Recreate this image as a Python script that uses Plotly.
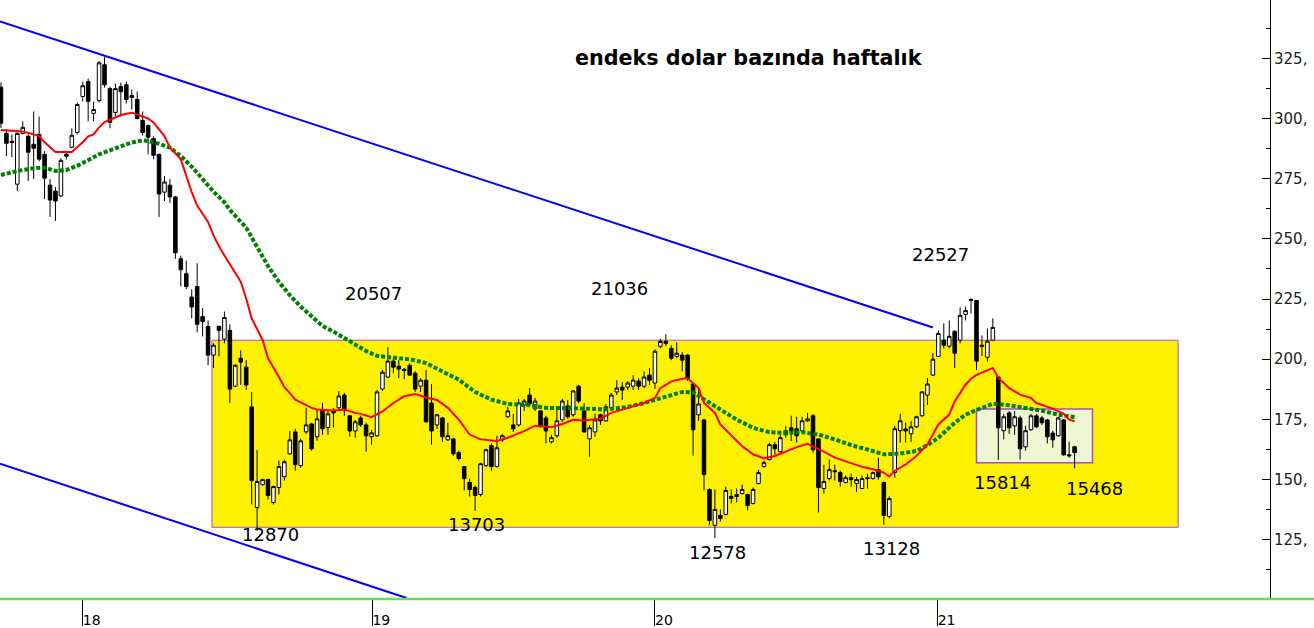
import pandas as pd
import plotly.graph_objects as go

# ---------------- data ----------------
first_week = "2017-09-15"

open_ = [
    313.0, 293.8, 290.5, 272.7, 293.8, 292.6, 289.3, 293.4, 285.1, 272.3,
    269.8, 267.8, 285.1, 288.0, 294.2, 309.1, 315.3, 302.1, 307.4, 322.3,
    312.4, 302.5, 313.2, 314.0, 309.5, 307.9, 299.2, 297.1, 291.7, 285.1,
    269.4, 272.3, 267.4, 241.7, 235.5, 225.8, 230.2, 217.7, 213.6, 201.7,
    213.6, 208.3, 212.0, 188.8, 200.4, 196.7, 180.2, 138.4, 147.9, 150.0,
    140.5, 146.7, 151.2, 160.7, 169.8, 155.8, 169.8, 173.1, 167.8, 179.0,
    171.6, 178.5, 179.8, 185.1, 176.5, 170.2, 175.6, 172.7, 167.8, 168.2,
    187.6, 192.6, 199.2, 197.1, 195.8, 197.5, 194.2, 188.8, 191.3, 181.8,
    172.7, 175.6, 166.5, 166.9, 161.2, 155.4, 148.8, 146.7, 143.8, 155.8,
    164.1, 155.4, 166.5, 176.1, 172.7, 172.7, 181.0, 185.1, 179.4, 178.5,
    175.6, 165.7, 168.2, 174.8, 180.6, 176.9, 188.8, 178.5, 166.9, 169.8,
    176.9, 174.4, 179.8, 186.4, 188.4, 188.4, 188.8, 190.9, 188.8, 193.4,
    190.1, 205.4, 207.4, 204.5, 201.2, 201.7, 201.7, 189.7, 176.9, 174.8,
    145.9, 131.0, 135.1, 135.5, 143.0, 143.8, 144.2, 143.8, 140.1, 148.4,
    155.4, 158.3, 164.5, 161.6, 168.6, 171.5, 171.1, 170.3, 174.4, 176.5,
    166.9, 146.3, 150.4, 153.7, 152.9, 148.8, 150.8, 148.4, 146.3, 150.8,
    150.4, 154.1, 148.8, 134.7, 152.9, 170.3, 171.0, 169.0, 171.9, 176.5,
    185.1, 193.4, 201.2, 207.9, 205.4, 211.6, 207.9, 218.6, 224.4, 224.4,
    205.8, 200.8, 207.9, 192.6, 170.3, 177.7, 172.3, 175.6, 163.6, 170.7,
    176.5, 175.6, 174.8, 169.3, 168.2, 174.8, 160.3, 163.6,
]

high = [
    315.0, 295.5, 293.4, 294.2, 298.8, 293.4, 302.9, 300.8, 286.4, 274.8,
    271.5, 283.5, 286.4, 295.9, 306.6, 315.3, 316.5, 307.0, 323.9, 325.6,
    313.2, 314.5, 314.9, 315.3, 312.0, 311.2, 302.9, 297.5, 292.6, 285.5,
    276.0, 274.8, 267.8, 243.0, 240.9, 229.0, 239.9, 221.3, 216.1, 206.6,
    214.0, 219.8, 214.5, 197.9, 203.7, 199.6, 186.4, 162.4, 150.4, 150.4,
    147.5, 157.9, 158.3, 170.2, 171.1, 167.0, 179.8, 173.6, 179.0, 181.8,
    178.5, 179.8, 186.8, 186.0, 176.9, 174.8, 176.5, 173.6, 170.7, 187.2,
    195.5, 205.1, 200.8, 199.6, 196.3, 198.3, 195.0, 192.1, 195.5, 189.7,
    177.3, 176.0, 173.6, 167.4, 162.0, 155.4, 150.4, 147.5, 157.0, 162.8,
    165.0, 168.2, 169.0, 180.2, 177.3, 183.5, 183.5, 188.0, 183.9, 179.0,
    176.5, 168.6, 179.4, 183.5, 183.1, 187.2, 189.3, 181.8, 172.7, 177.3,
    177.3, 181.4, 186.0, 191.3, 190.5, 190.9, 193.4, 192.1, 195.0, 196.3,
    204.1, 208.5, 210.4, 205.8, 207.0, 202.9, 202.1, 190.5, 187.2, 175.2,
    146.3, 145.9, 137.6, 147.1, 145.9, 146.3, 147.9, 144.2, 146.7, 154.1,
    157.9, 165.3, 165.7, 168.6, 172.3, 176.5, 176.1, 176.1, 177.7, 177.3,
    166.9, 156.2, 158.3, 156.2, 153.7, 151.7, 152.5, 151.2, 151.7, 152.5,
    153.3, 159.1, 149.2, 143.0, 172.3, 177.3, 173.6, 174.4, 176.5, 186.8,
    192.2, 202.5, 212.0, 214.9, 216.1, 212.0, 221.5, 221.9, 225.3, 224.6,
    209.9, 212.8, 217.0, 193.0, 177.3, 178.5, 178.5, 176.5, 172.3, 177.3,
    177.3, 176.5, 175.2, 170.2, 176.1, 175.2, 165.7, 164.0,
]

low = [
    296.0, 284.3, 283.9, 269.8, 293.4, 274.0, 274.8, 282.2, 266.5, 259.1,
    257.4, 267.4, 283.0, 287.6, 293.4, 307.1, 298.8, 298.8, 306.6, 312.8,
    295.9, 300.8, 300.8, 306.2, 303.7, 299.6, 292.9, 285.1, 283.1, 259.1,
    265.7, 264.9, 241.7, 230.2, 229.0, 216.9, 211.2, 209.5, 197.5, 196.3,
    201.2, 206.6, 181.8, 188.4, 189.3, 187.2, 139.7, 128.7, 147.5, 141.7,
    139.7, 143.8, 149.6, 160.3, 153.7, 154.9, 169.0, 162.0, 166.1, 168.6,
    168.6, 171.6, 179.4, 176.5, 167.8, 167.4, 171.9, 161.6, 164.5, 167.8,
    186.8, 192.1, 194.2, 192.1, 191.7, 193.0, 186.4, 186.4, 173.6, 164.5,
    171.0, 165.7, 166.1, 159.9, 157.9, 145.5, 143.0, 137.0, 143.0, 155.4,
    153.7, 155.0, 165.7, 175.6, 169.8, 171.9, 178.5, 180.6, 178.5, 171.5,
    165.0, 165.0, 167.4, 174.0, 175.2, 176.1, 181.8, 169.4, 159.5, 167.8,
    172.7, 174.0, 179.4, 185.1, 183.1, 187.2, 187.2, 187.2, 188.0, 189.3,
    187.6, 204.5, 205.4, 199.6, 200.4, 195.0, 190.9, 159.9, 174.4, 145.5,
    131.0, 125.8, 132.6, 135.1, 140.1, 140.5, 143.8, 137.2, 139.7, 148.0,
    155.0, 158.0, 160.3, 161.2, 167.4, 166.0, 165.3, 170.0, 174.0, 161.2,
    136.4, 144.2, 149.6, 149.6, 147.1, 148.4, 147.1, 144.9, 146.0, 146.3,
    150.0, 150.0, 131.3, 133.9, 150.8, 165.3, 165.3, 165.7, 171.5, 176.1,
    181.0, 193.0, 200.8, 204.5, 204.5, 196.3, 206.6, 216.1, 219.0, 195.5,
    201.3, 199.0, 208.0, 158.1, 166.7, 169.0, 168.6, 158.3, 162.0, 170.3,
    171.5, 172.7, 165.0, 163.2, 167.8, 159.9, 159.1, 154.7,
]

close = [
    298.0, 289.7, 290.0, 293.8, 296.3, 286.0, 287.6, 283.1, 275.2, 266.1,
    265.7, 282.6, 284.3, 293.0, 305.8, 313.6, 307.1, 303.7, 323.1, 314.0,
    298.3, 312.4, 311.1, 307.9, 308.7, 300.0, 294.2, 292.2, 284.7, 268.6,
    273.6, 267.4, 244.2, 237.2, 230.2, 221.7, 214.5, 215.7, 201.7, 205.8,
    212.0, 217.3, 187.6, 197.5, 198.8, 189.3, 149.6, 149.2, 150.0, 143.4,
    147.1, 155.4, 157.4, 166.5, 156.2, 166.1, 172.7, 162.8, 175.2, 171.1,
    177.3, 177.7, 184.7, 179.0, 170.2, 174.0, 172.7, 168.2, 169.4, 186.4,
    194.6, 199.2, 196.7, 195.9, 195.3, 193.4, 187.6, 191.3, 174.0, 170.2,
    176.9, 167.8, 168.2, 160.7, 158.7, 150.4, 145.9, 143.4, 156.6, 162.4,
    155.4, 163.2, 168.2, 178.5, 171.1, 181.8, 182.6, 181.4, 182.6, 172.3,
    170.2, 167.4, 174.4, 182.6, 176.1, 186.8, 182.6, 169.8, 171.5, 174.8,
    174.4, 180.2, 185.1, 188.0, 187.2, 190.1, 191.3, 188.8, 192.6, 191.3,
    203.3, 207.4, 206.6, 200.4, 202.5, 199.6, 192.1, 170.7, 181.4, 152.1,
    133.0, 137.6, 133.9, 145.5, 142.2, 143.0, 145.9, 139.3, 145.9, 152.9,
    157.0, 164.5, 162.8, 167.4, 170.2, 170.2, 168.2, 174.4, 175.2, 162.4,
    146.7, 149.2, 154.1, 153.3, 149.2, 150.8, 150.0, 150.0, 150.4, 150.4,
    152.9, 151.2, 135.1, 142.1, 171.1, 174.4, 170.2, 171.9, 176.1, 186.4,
    189.7, 200.0, 210.7, 205.8, 209.5, 202.5, 218.2, 220.2, 224.8, 199.2,
    205.4, 207.5, 213.2, 171.5, 176.1, 171.5, 176.1, 162.8, 170.3, 176.5,
    171.9, 173.6, 167.8, 166.5, 175.6, 160.3, 159.9, 161.2,
]

# short moving average (red) at these week numbers
red_weeks = [
    0, 4, 6, 7, 8, 10, 12, 13, 15, 16, 17, 18, 19, 21, 22, 24, 25, 27, 28, 29,
    30, 31, 33, 34, 35, 36, 38, 39, 40, 41, 43, 44, 45, 46, 48, 49, 51, 52, 53, 54,
    57, 58, 61, 63, 65, 66, 68, 70, 72, 74, 76, 78, 80, 82, 84, 86, 88, 91, 93, 96,
    98, 101, 103, 105, 107, 110, 112, 115, 118, 120, 121, 123, 125, 126, 127, 128,
    129, 131, 132, 133, 134, 136, 138, 140, 142, 144, 146, 148, 149, 151, 153, 156,
    158, 160, 162, 163, 164, 166, 168, 170, 171, 172, 174, 175, 177, 178, 179, 182,
    183, 185, 187, 189, 190, 193, 195, 196, 197,
]
red_ma = [
    295.2, 294.6, 293.4, 292.7, 290.1, 286.1, 286.1, 286.1, 290.1, 292.6,
    293.4, 296.3, 298.5, 300.4, 301.4, 302.4, 301.7, 300.0, 298.3, 295.5,
    292.7, 288.0, 283.0, 276.2, 269.4, 263.8, 257.0, 251.4, 246.9, 243.1,
    235.5, 232.2, 225.2, 217.0, 208.0, 200.4, 192.6, 188.4, 185.9, 183.2,
    179.8, 179.1, 178.7, 179.1, 177.7, 177.3, 175.9, 178.3, 181.8, 184.6,
    185.5, 184.1, 183.1, 179.8, 174.9, 168.7, 166.7, 166.0, 167.4, 170.1,
    172.4, 171.7, 173.1, 174.8, 174.5, 175.3, 177.7, 179.8, 181.8, 183.9,
    188.0, 190.8, 191.9, 192.1, 190.1, 188.0, 181.8, 177.7, 172.9, 170.7,
    168.7, 163.9, 160.5, 158.8, 159.8, 161.6, 163.5, 164.9, 163.9, 161.6,
    159.1, 157.0, 155.3, 154.3, 152.9, 151.3, 153.6, 156.3, 159.8, 164.6,
    168.7, 172.9, 177.0, 182.5, 189.4, 191.9, 193.5, 196.3, 192.2, 188.0,
    185.3, 183.9, 181.8, 179.5, 177.3, 174.9, 174.2,
]

# long moving average (green dotted)
green_weeks = [
    0, 3, 6, 8, 10, 12, 14, 16, 18, 21, 24, 26, 27, 29, 31, 33, 35, 37, 39, 41,
    42, 45, 47, 49, 51, 53, 55, 57, 59, 61, 63, 65, 67, 69, 71, 73, 75, 78, 81, 84,
    87, 90, 93, 97, 100, 104, 107, 111, 115, 118, 121, 125, 127, 130, 132, 135, 138,
    141, 144, 147, 150, 153, 156, 159, 162, 165, 168, 170, 172, 175, 177, 180, 182,
    185, 188, 191, 194, 197,
]
green_ma = [
    276.5, 278.2, 279.3, 279.6, 278.2, 278.6, 280.3, 282.6, 285.1, 287.6,
    290.0, 290.9, 290.6, 289.5, 287.9, 284.4, 280.0, 274.8, 269.6, 265.2,
    262.0, 254.6, 246.3, 238.7, 232.1, 226.6, 221.8, 217.7, 213.8, 211.5,
    208.7, 205.9, 203.4, 201.4, 200.7, 200.4, 200.0, 198.4, 194.9, 191.5,
    186.4, 183.2, 181.4, 180.9, 179.8, 179.8, 179.5, 179.1, 180.2, 181.8,
    183.6, 186.4, 186.2, 182.2, 179.1, 174.9, 171.5, 169.7, 169.4, 169.7,
    168.7, 166.7, 164.3, 162.5, 160.5, 160.8, 161.9, 164.3, 167.4, 173.6,
    177.0, 179.8, 181.5, 180.9, 179.8, 178.6, 177.0, 175.9,
]

upper_trend_dates = ["2017-09-13 18:00", "2020-12-25"]
upper_trend_vals = [340.3, 213.2]
lower_trend_dates = ["2017-09-13 18:00", "2019-02-18"]
lower_trend_vals = [156.6, 100.8]

range_box_dates = ["2018-06-13", "2021-11-05"]
range_box_levels = [130.2, 207.9]
base_box_dates = ["2021-02-19", "2021-07-18"]
base_box_levels = [157.0, 179.3]

label_texts = ["20507", "21036", "22527", "12870", "13703", "12578", "13128", "15814", "15468"]
label_dates = ["2019-01-07", "2019-11-18", "2021-01-04", "2018-08-27", "2019-05-19",
               "2020-03-23", "2020-11-02", "2021-03-24", "2021-07-20"]
label_levels = [227.3, 229.3, 243.4, 127.3, 131.4, 119.9, 121.5, 148.8, 146.3]

year_tick_dates = ["2017-12-29", "2019-01-05", "2020-01-03", "2020-12-31"]
year_tick_labels = ["18", "19", "20", "21"]
price_ticks = [125, 150, 175, 200, 225, 250, 275, 300, 325]
price_tick_labels = ["125,", "150,", "175,", "200,", "225,", "250,", "275,", "300,", "325,"]

title_text = "endeks dolar bazında haftalık"

assert len(open_) == len(high) == len(low) == len(close)
assert len(red_weeks) == len(red_ma) and len(green_weeks) == len(green_ma)

# ---------------- figure ----------------
dates = pd.date_range(first_week, periods=len(close), freq="7D")

fig = go.Figure()

fig.add_trace(go.Candlestick(
    x=dates, open=open_, high=high, low=low, close=close,
    increasing=dict(fillcolor="white", line=dict(color="black", width=1)),
    decreasing=dict(fillcolor="black", line=dict(color="black", width=1)),
    whiskerwidth=0, showlegend=False, hoverinfo="skip",
))

fig.add_trace(go.Scatter(
    x=[dates[i] for i in green_weeks], y=green_ma, mode="lines",
    line=dict(color="#008000", width=4, dash="4px,2px"),
    showlegend=False, hoverinfo="skip",
))
fig.add_trace(go.Scatter(
    x=[dates[i] for i in red_weeks], y=red_ma, mode="lines",
    line=dict(color="#ff0000", width=2),
    showlegend=False, hoverinfo="skip",
))
for dts, vals in ((upper_trend_dates, upper_trend_vals), (lower_trend_dates, lower_trend_vals)):
    fig.add_trace(go.Scatter(
        x=dts, y=vals, mode="lines", line=dict(color="#0000ff", width=2),
        showlegend=False, hoverinfo="skip",
    ))

fig.add_shape(type="rect", xref="x", yref="y", layer="below",
              x0=range_box_dates[0], x1=range_box_dates[1],
              y0=range_box_levels[0], y1=range_box_levels[1],
              fillcolor="#fff200", line=dict(color="#a050c8", width=1))
fig.add_shape(type="rect", xref="x", yref="y", layer="below",
              x0=base_box_dates[0], x1=base_box_dates[1],
              y0=base_box_levels[0], y1=base_box_levels[1],
              fillcolor="#eef6d2", line=dict(color="#a050c8", width=1.5))
# bottom green baseline across the full width
fig.add_shape(type="line", xref="paper", yref="paper", x0=0, x1=1314 / 1270, y0=0, y1=0,
              line=dict(color="#66dd66", width=2.5), layer="above")

for t, d, v in zip(label_texts, label_dates, label_levels):
    fig.add_annotation(x=d, y=v, text=t, showarrow=False, xanchor="center", yanchor="middle",
                       font=dict(family="DejaVu Sans", size=18, color="black"))

fig.add_annotation(x=748.5 / 1270, y=1 - 58 / 602, xref="paper", yref="paper",
                   text="<b>" + title_text + "</b>", showarrow=False,
                   xanchor="center", yanchor="middle",
                   font=dict(family="DejaVu Sans", size=20.7, color="black"))

fig.update_layout(
    width=1314, height=628,
    margin=dict(l=0, r=44, t=0, b=26),
    paper_bgcolor="white", plot_bgcolor="white",
    showlegend=False,
    boxgap=0.35, boxgroupgap=0,
    xaxis=dict(
        type="date", range=["2017-09-13 18:00", "2022-03-03"],
        rangeslider=dict(visible=False),
        showgrid=False, zeroline=False, showline=False,
        tickmode="array", tickvals=year_tick_dates, ticktext=year_tick_labels,
        ticks="outside", ticklen=26, tickcolor="black", tickwidth=1,
        ticklabelshift=9, ticklabelstandoff=-18,
        tickfont=dict(family="DejaVu Sans", size=14, color="black"),
    ),
    yaxis=dict(
        side="right", range=[100.4, 349.2],
        showgrid=False, zeroline=False,
        showline=True, linecolor="black", linewidth=1,
        tickmode="array", tickvals=price_ticks, ticktext=price_tick_labels,
        ticks="inside", ticklen=8, tickcolor="black", tickwidth=1,
        minor=dict(ticks="inside", ticklen=4, tickcolor="black", dtick=12.5, tick0=0),
        tickfont=dict(family="DejaVu Sans", size=15, color="#222222"),
    ),
)

fig.write_html("out.html", config={"displayModeBar": False},
               post_script="document.body.style.margin='0';document.body.style.overflow='hidden';")
